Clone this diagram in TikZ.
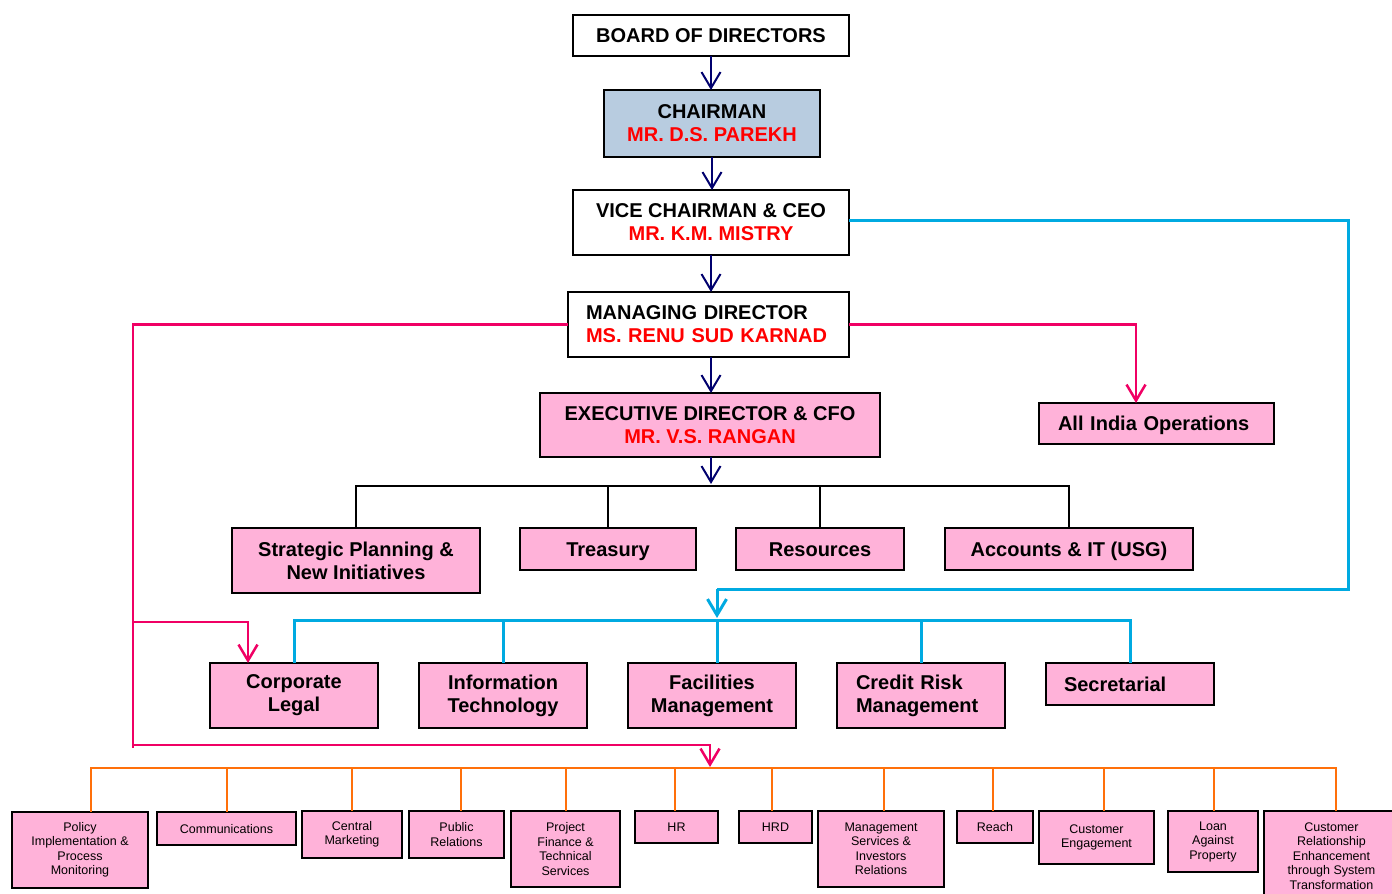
\documentclass[tikz,border=0pt]{standalone}
\usepackage{fontspec}
\setmainfont{Liberation Sans}
\usetikzlibrary{arrows.meta}
\definecolor{pinkfill}{RGB}{255,178,217}
\definecolor{chairfill}{RGB}{184,204,224}
\definecolor{navyline}{RGB}{0,0,110}
\definecolor{magline}{RGB}{240,0,100}
\definecolor{cyanline}{RGB}{0,170,225}
\definecolor{orangeline}{RGB}{255,112,10}
\newcommand\bigfnt{\fontsize{20}{23}\selectfont\bfseries}
\newcommand\smallfnt{\fontsize{12.5}{14.5}\selectfont}
\newcommand\rd[1]{\textcolor{red}{#1}}
\begin{document}
\begin{tikzpicture}[x=1pt,y=-1pt,
  box/.style={draw=black, line width=2pt, inner sep=0pt, outer sep=0pt, anchor=north west, align=center, font=\bigfnt},
  whitebox/.style={box, fill=white},
  pinkbox/.style={box, fill=pinkfill},
  smallbox/.style={pinkbox, line width=1.8pt, font=\smallfnt},
  one/.style={text height=14.3pt, text depth=0pt},
  onesm/.style={text height=9pt, text depth=0pt},
  sz/.style 2 args={minimum width=#1pt, minimum height=#2pt},
  lsz/.style n args={3}{text width=#1pt, minimum height=#2pt, inner xsep=#3pt, align=left},
  tip/.style={-{Straight Barb[length=16pt,width=19pt]}},
  navyarr/.style={draw=navyline, line width=2pt, tip},
  blk/.style={draw=black, line width=2pt},
  cyn/.style={draw=cyanline, line width=3pt},
  cynarr/.style={cyn, tip},
  mag/.style={draw=magline, line width=2.5pt},
  magarr/.style={mag, tip},
  org/.style={draw=orangeline, line width=2.5pt}
]
\useasboundingbox (0,0) rectangle (1392,894);
\fill[white] (0,0) rectangle (1392,894);
\clip (0,0) rectangle (1392,894);

% ---- top chain
\node[whitebox, one, sz={276}{41}] (board) at (573,15) {BOARD OF DIRECTORS};
\node[box, fill=chairfill, sz={216}{67}] (chair) at (604,90) {CHAIRMAN\\\rd{MR. D.S. PAREKH}};
\node[whitebox, sz={276}{65}] (vc) at (573,190) {VICE CHAIRMAN \& CEO\\\rd{MR. K.M. MISTRY}};
\node[whitebox, lsz={245}{65}{18}] (md) at (568,292) {MANAGING DIRECTOR\\\rd{MS. RENU SUD KARNAD}};
\node[pinkbox, sz={340}{64}] (ed) at (540,393) {EXECUTIVE DIRECTOR \& CFO\\\rd{MR. V.S. RANGAN}};
\node[pinkbox, one, lsz={197}{41}{19}] (aio) at (1039,403) {All India Operations};

% ---- second row
\node[pinkbox, sz={248}{65}] (strat) at (232,528) {Strategic Planning \&\\New Initiatives};
\node[pinkbox, one, sz={176}{42}] (treas) at (520,528) {Treasury};
\node[pinkbox, one, sz={168}{42}] (res) at (736,528) {Resources};
\node[pinkbox, one, sz={248}{42}] (acc) at (945,528) {Accounts \& IT (USG)};

% ---- third row
\node[pinkbox, sz={168}{65}] (legal) at (210,663) {Corporate\\Legal\vphantom{A}};
\node[pinkbox, sz={168}{65}] (it) at (419,663) {Information\\Technology};
\node[pinkbox, sz={168}{65}] (fac) at (628,663) {Facilities\\Management};
\node[pinkbox, lsz={130}{65}{19}] (crm) at (837,663) {Credit Risk\\Management};
\node[pinkbox, one, lsz={132}{42}{18}] (sec) at (1046,663) {Secretarial};

% ---- bottom row
\node[smallbox, sz={136}{76}] (policy) at (12,812) {Policy\\Implementation \&\\Process\\Monitoring};
\node[smallbox, onesm, sz={139}{33}] (comm) at (157,812) {Communications};
\node[smallbox, sz={100}{47}] (cmkt) at (302,811) {Central\\Marketing};
\node[smallbox, sz={95}{47}] (pr) at (409,811) {Public\\Relations};
\node[smallbox, sz={109}{76}] (pf) at (511,811) {Project\\Finance \&\\Technical\\Services};
\node[smallbox, onesm, sz={83}{32}] (hr) at (635,811) {HR};
\node[smallbox, onesm, sz={73}{32}] (hrd) at (739,811) {HRD};
\node[smallbox, sz={126}{76}] (ms) at (818,811) {Management\\Services \&\\Investors\\Relations};
\node[smallbox, onesm, sz={76}{32}] (reach) at (957,811) {Reach};
\node[smallbox, sz={115}{53}] (ce) at (1039,811) {Customer\\Engagement};
\node[smallbox, sz={90}{61}] (lap) at (1168,811) {Loan\\Against\\Property};
\node[smallbox, sz={135}{90}] (cre) at (1264,811) {Customer\\Relationship\\Enhancement\\through System\\Transformation};

% ---- navy arrows
\coordinate (edtip) at (711,484);
\draw[navyarr] (board.south) -- (board.south |- chair.north);
\draw[navyarr] (chair.south) -- (chair.south |- vc.north);
\draw[navyarr] (vc.south) -- (vc.south |- md.north);
\draw[navyarr] (vc.south |- md.south) -- (vc.south |- ed.north);
\draw[navyarr] (edtip |- ed.south) -- (edtip);

% ---- black bus
\coordinate (bbus) at (711,486);
\draw[blk] (strat.north) |- (bbus) -| (acc.north);
\draw[blk] (treas.north) -- (treas.north |- bbus);
\draw[blk] (res.north) -- (res.north |- bbus);

% ---- cyan
\coordinate (cR) at (1348,589);
\coordinate (cA) at (717,589);
\coordinate (cT) at (717,618);
\coordinate (cbus) at (717,620);
\draw[cyn] ([yshift=2.5pt]vc.east) -| (cR) -- (cA);
\draw[cynarr] (cA) -- (cT);
\draw[cyn] (legal.north) |- (cbus) -| (sec.north);
\draw[cyn] (it.north) -- (it.north |- cbus);
\draw[cyn] (cbus) -- (cbus |- fac.north);
\draw[cyn] (crm.north) -- (crm.north |- cbus);

% ---- orange bus
\coordinate (o1) at (91,768);
\coordinate (o2) at (227,768);
\coordinate (o3) at (352,768);
\coordinate (o4) at (461,768);
\coordinate (o5) at (566,768);
\coordinate (o6) at (675,768);
\coordinate (o7) at (772,768);
\coordinate (o8) at (884,768);
\coordinate (o9) at (993,768);
\coordinate (o10) at (1104,768);
\coordinate (o11) at (1214,768);
\coordinate (o12) at (1336,768);
\draw[org] (o1 |- policy.north) -- (o1) -- (o12) -- (o12 |- cre.north);
\foreach \c/\n in {o2/comm,o3/cmkt,o4/pr,o5/pf,o6/hr,o7/hrd,o8/ms,o9/reach,o10/ce,o11/lap}
  \draw[org] (\c) -- (\c |- \n.north);

% ---- magenta
\coordinate (mBot) at (133,748);
\coordinate (mBr) at (133,622);
\coordinate (mLow) at (133,745);
\coordinate (mLeg) at (248,663);
\coordinate (mOr) at (710,767);
\coordinate (mAio) at (1136,403);
\draw[mag] (md.west) -| (mBot);
\draw[magarr] (mBr) -| (mLeg);
\draw[magarr] (mLow) -| (mOr);
\draw[magarr] (md.east) -| (mAio);
\end{tikzpicture}
\end{document}
